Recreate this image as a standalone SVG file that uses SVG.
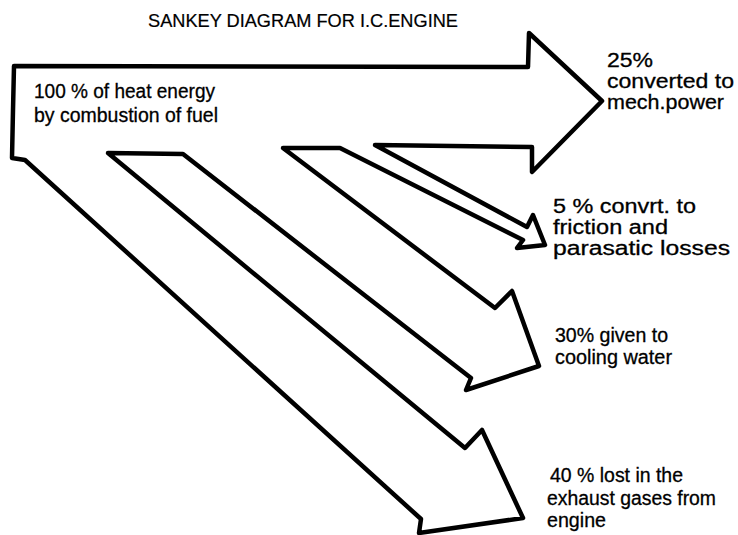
<svg xmlns="http://www.w3.org/2000/svg" width="738" height="535" viewBox="0 0 738 535">
<style>
.flow{fill:#fff;stroke:#000;stroke-width:4.5;stroke-linejoin:round;stroke-linecap:round}
.t{font-family:"Liberation Sans",Arial,sans-serif;font-size:20px;fill:#000;stroke:#000;stroke-width:0.3}
.title{font-family:"Liberation Sans",Arial,sans-serif;font-size:18px;fill:#000;stroke:#000;stroke-width:0.2}
</style>
<rect width="738" height="535" fill="#fff"/>
<text class="title" x="148" y="27" textLength="310" lengthAdjust="spacingAndGlyphs">SANKEY DIAGRAM FOR I.C.ENGINE</text>
<g id="connectors">
<path class="flow" d="M14,66 L528,67 L529,33 L602,101 L532,172 L532,147 L375,145 L527,227 L533,215 L545,245 L517,248 L523,240 L340,148 L283,148 L495,308 L512,291 L539,366 L466,390 L471,378 L183,154 L108,153 L465,448 L482,430 L523,518 L419,533 L421,519 L25,160 L12,158 L13,110 Z"/>
</g>
<g id="source">
<text class="t" x="34" y="98" textLength="181" lengthAdjust="spacingAndGlyphs">100 % of heat energy</text>
<text class="t" x="34" y="122" textLength="184" lengthAdjust="spacingAndGlyphs">by combustion of fuel</text>
</g>
<g id="mech">
<text class="t" x="607" y="67" textLength="46" lengthAdjust="spacingAndGlyphs">25%</text>
<text class="t" x="607" y="88" textLength="127" lengthAdjust="spacingAndGlyphs">converted to</text>
<text class="t" x="607" y="109" textLength="117" lengthAdjust="spacingAndGlyphs">mech.power</text>
</g>
<g id="friction">
<text class="t" x="553" y="213" textLength="143" lengthAdjust="spacingAndGlyphs">5 % convrt. to</text>
<text class="t" x="553" y="234" textLength="115" lengthAdjust="spacingAndGlyphs">friction and</text>
<text class="t" x="553" y="255" textLength="177" lengthAdjust="spacingAndGlyphs">parasatic losses</text>
</g>
<g id="cooling">
<text class="t" x="555" y="342" textLength="113" lengthAdjust="spacingAndGlyphs">30% given to</text>
<text class="t" x="555" y="364" textLength="117" lengthAdjust="spacingAndGlyphs">cooling water</text>
</g>
<g id="exhaust">
<text class="t" x="550" y="482" textLength="133" lengthAdjust="spacingAndGlyphs">40 % lost in the</text>
<text class="t" x="547" y="505" textLength="169" lengthAdjust="spacingAndGlyphs">exhaust gases from</text>
<text class="t" x="547" y="527" textLength="59" lengthAdjust="spacingAndGlyphs">engine</text>
</g>
</svg>
